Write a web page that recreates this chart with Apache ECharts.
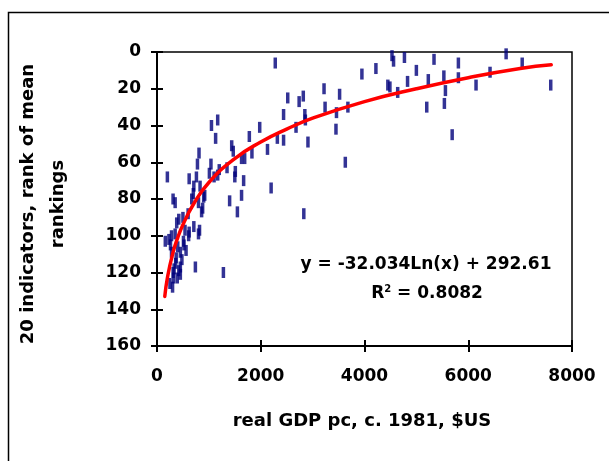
<!DOCTYPE html>
<html lang="en">
    <head>
        <meta charset="UTF-8" />
        <title>Rank vs GDP</title>
        <script src="https://cdn.jsdelivr.net/npm/echarts@6/dist/echarts.min.js"></script>
        <style>
            html, body { margin: 0; padding: 0; background: #fff; }
            #chart { width: 609px; height: 461px; }
        </style>
    </head>
    <body>
        <div id="chart"></div>
        <script>
            //scatter points: real GDP pc and rank
            const gdp = [2280, 4530, 4560, 4770, 6730, 5340, 5810, 5810, 4220, 3950, 5000, 7040, 6420, 5530, 5230, 4450, 4490, 4640, 4830, 5560,
                6150, 7590, 3220, 3520, 2520, 2740, 2820, 3240, 3680, 3460, 5200, 5540, 2440, 2850, 2860, 3450, 5690, 1980, 2320, 2440,
                2680, 2910, 1050, 1170, 1130, 810, 780, 1780, 2130, 1830, 1440, 1470, 1630, 1690, 3630, 1040, 1010, 200, 620, 1170,
                1350, 1500, 1670, 710, 760, 830, 920, 2200, 1630, 1400, 1550, 2830, 310, 350, 670, 800, 860, 380, 420, 500,
                540, 620, 710, 820, 160, 230, 280, 310, 360, 390, 450, 480, 510, 450, 740, 1280, 250, 400, 260, 350,
                450, 370, 420, 320, 610, 800, 520, 300, 330, 560, 900, 880, 1100, 1200, 1510, 280, 600, 700];
            const rank = [6, 2, 5, 3, 1, 4, 6, 14, 9, 12, 10, 6, 11, 13, 15, 18, 19, 22, 16, 21,
                18, 18, 20, 23, 25, 27, 24, 30, 30, 33, 30, 28, 34, 34, 37, 42, 45, 41, 47, 48,
                41, 49, 40, 37, 47, 55, 61, 46, 53, 55, 51, 54, 58, 58, 60, 61, 66, 68, 69, 67,
                63, 68, 70, 73, 68, 73, 78, 74, 78, 81, 87, 88, 80, 82, 80, 82, 87, 93, 91, 90,
                97, 98, 95, 97, 103, 102, 109, 120, 115, 123, 117, 113, 103, 121, 117, 120, 126, 106, 105, 99,
                109, 112, 119, 123, 100, 99, 105, 128, 118, 108, 79, 85, 68, 64, 65, 100, 88, 77];

            //red log trend line
            const trendX = [150, 200, 300, 400, 500, 700, 1000, 1500, 2000, 2500, 3000, 4000, 5000, 6000, 7000, 7600];
            const trendY = [133, 123, 110, 101, 94, 83, 71, 58, 49, 42, 36, 27, 20, 14, 9, 7];

            const xTicks = ["0", "2000", "4000", "6000", "8000"];
            const yTicks = ["0", "20", "40", "60", "80", "100", "120", "140", "160"];

            const font = "DejaVu Sans";
            const plot = { left: 157, right: 37, top: 52, bottom: 115 };
            const tickStyle = { color: "#000", width: 2 };

            const chart = echarts.init(document.getElementById("chart"), null, { renderer: "canvas" });

            const baseX = { type: "value", min: 0, max: 8000, interval: 2000, position: "bottom", splitLine: { show: false } };
            const baseY = { type: "value", min: 0, max: 160, interval: 20, inverse: true, position: "left", splitLine: { show: false } };

            chart.setOption({
                animation: false,
                grid: [
                    Object.assign({ show: true, borderColor: "#000", borderWidth: 1.5, backgroundColor: "#fff" }, plot),
                    //second grid on the same spot, only carries the inner half of the ticks
                    Object.assign({ show: false }, plot),
                ],
                xAxis: [
                    Object.assign({}, baseX, {
                        gridIndex: 0,
                        axisLine: { onZero: false, lineStyle: { color: "#000", width: 2 } },
                        axisTick: { length: 6, lineStyle: tickStyle },
                        axisLabel: {
                            margin: 22, color: "#000", fontFamily: font, fontWeight: "bold", fontSize: 17,
                            formatter: v => xTicks[v / 2000],
                        },
                    }),
                    Object.assign({}, baseX, {
                        gridIndex: 1,
                        axisLine: { show: false, onZero: false },
                        axisTick: { inside: true, length: 6, lineStyle: tickStyle },
                        axisLabel: { show: false },
                    }),
                ],
                yAxis: [
                    Object.assign({}, baseY, {
                        gridIndex: 0,
                        axisLine: { onZero: false, lineStyle: { color: "#000", width: 2 } },
                        axisTick: { length: 6, lineStyle: tickStyle },
                        axisLabel: {
                            margin: 16, color: "#000", fontFamily: font, fontWeight: "bold", fontSize: 17,
                            formatter: v => yTicks[v / 20],
                        },
                    }),
                    Object.assign({}, baseY, {
                        gridIndex: 1,
                        axisLine: { show: false, onZero: false },
                        axisTick: { inside: true, length: 6, lineStyle: tickStyle },
                        axisLabel: { show: false },
                    }),
                ],
                series: [
                    {
                        type: "scatter",
                        xAxisIndex: 0,
                        yAxisIndex: 0,
                        symbol: "rect",
                        symbolSize: [3.5, 11],
                        itemStyle: { color: "#00007a" },
                        data: gdp.map((g, i) => [g, rank[i]]),
                        z: 2,
                    },
                    {
                        type: "line",
                        xAxisIndex: 0,
                        yAxisIndex: 0,
                        smooth: true,
                        showSymbol: false,
                        lineStyle: { color: "#ff0000", width: 3.5, cap: "round" },
                        data: trendX.map((x, i) => [x, trendY[i]]),
                        z: 3,
                    },
                ],
                graphic: [
                    {
                        type: "rect",
                        shape: { x: 8.5, y: 12.5, width: 700, height: 600 },
                        style: { fill: "none", stroke: "#000", lineWidth: 1.5 },
                        silent: true,
                    },
                    {
                        type: "text",
                        x: 43, y: 204, rotation: Math.PI / 2,
                        style: {
                            text: "20 indicators, rank of mean\nrankings",
                            align: "center", verticalAlign: "middle", lineHeight: 30,
                            font: "bold 18px '" + font + "'", fill: "#000",
                        },
                    },
                    {
                        type: "text",
                        x: 362, y: 421,
                        style: {
                            text: "real GDP pc, c. 1981, $US",
                            align: "center", verticalAlign: "middle",
                            font: "bold 18px '" + font + "'", fill: "#000",
                        },
                    },
                    {
                        type: "text",
                        x: 426, y: 265,
                        style: {
                            text: "y = -32.034Ln(x) + 292.61",
                            align: "center", verticalAlign: "middle",
                            font: "bold 17px '" + font + "'", fill: "#000",
                        },
                    },
                    {
                        type: "text",
                        x: 427, y: 293,
                        style: {
                            text: "{a|R}{s|2}{a| = 0.8082}",
                            align: "center", verticalAlign: "middle",
                            rich: {
                                a: { fontFamily: font, fontWeight: "bold", fontSize: 17, fill: "#000", verticalAlign: "bottom" },
                                s: { fontFamily: font, fontWeight: "bold", fontSize: 10, fill: "#000", verticalAlign: "top", padding: [0, 0, 8, 0] },
                            },
                        },
                    },
                ],
            });
        </script>
    </body>
</html>
